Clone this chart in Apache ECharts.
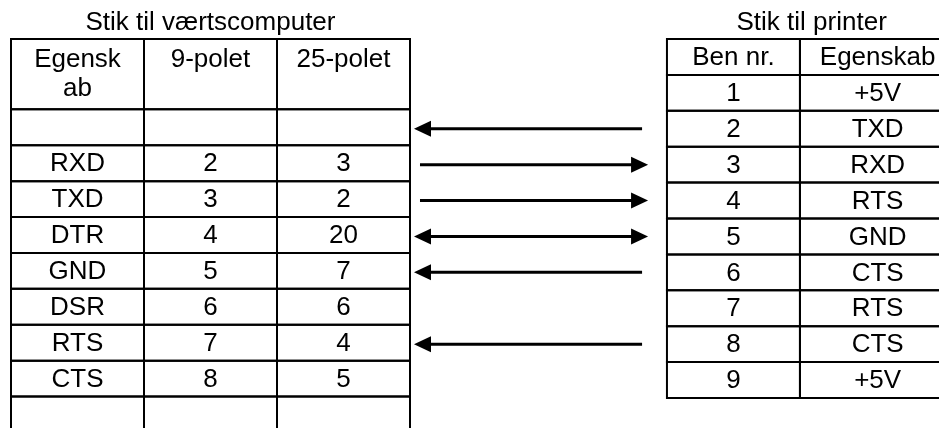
<!DOCTYPE html>
<html>
<head>
<meta charset="utf-8">
<script src="https://cdn.jsdelivr.net/npm/echarts@6/dist/echarts.min.js"></script>
<style>
html,body{margin:0;padding:0;background:#fff;}
#chart{width:939px;height:428px;}
</style>
</head>
<body>
<div id="chart"></div>
<script>
// ---- data ----
const leftTitle = 'Stik til værtscomputer';
const rightTitle = 'Stik til printer';
const leftHeader = ['Egensk\nab', '9-polet', '25-polet'];
const hostProps = ['', 'RXD', 'TXD', 'DTR', 'GND', 'DSR', 'RTS', 'CTS', ''];
const hostPins9 = ['', '2', '3', '4', '5', '6', '7', '8', ''];
const hostPins25 = ['', '3', '2', '20', '7', '6', '4', '5', ''];
const rightHeader = ['Ben nr.', 'Egenskab'];
const printerPins = ['1', '2', '3', '4', '5', '6', '7', '8', '9'];
const printerProps = ['+5V', 'TXD', 'RXD', 'RTS', 'GND', 'CTS', 'RTS', 'CTS', '+5V'];
const arrowPins = [2, 3, 4, 5, 6, 8];
const arrowDirs = ['left', 'right', 'right', 'both', 'left', 'left'];

// ---- layout (axis units: x = one column width, y = one row height) ----
const COL_PX = 133, ROW_PX = 35.9, GRID_LEFT = 11, GRID_TOP = 39;
const X_MAX = (939 - GRID_LEFT) / COL_PX;
const Y_MAX = (428 - GRID_TOP) / ROW_PX;
const LEFT_COLS = [0, 1, 2, 3];
const RIGHT_COLS = [4.932, 5.932, 7.1];
const LEFT_HEADER_ROWS = 2;
const LEFT_SHIFT = -0.04;
const ARROW_L = 3.03, ARROW_R = 4.79;
const FONT = '26px "Liberation Sans", Arial, sans-serif';
const HEAD_LEN = 17, HEAD_HALF = 8, TAIL_INSET = 6;

const cells = [];
leftHeader.forEach((t, c) => cells.push({x0: LEFT_COLS[c], x1: LEFT_COLS[c + 1], y0: 0, y1: LEFT_HEADER_ROWS + LEFT_SHIFT, text: t, header: true}));
hostProps.forEach((p, r) => {
  [p, hostPins9[r], hostPins25[r]].forEach((t, c) => cells.push({
    x0: LEFT_COLS[c], x1: LEFT_COLS[c + 1],
    y0: LEFT_HEADER_ROWS + r + LEFT_SHIFT, y1: LEFT_HEADER_ROWS + r + 1 + LEFT_SHIFT, text: t
  }));
});
rightHeader.forEach((t, c) => cells.push({x0: RIGHT_COLS[c], x1: RIGHT_COLS[c + 1], y0: 0, y1: 1, text: t}));
printerPins.forEach((p, r) => {
  [p, printerProps[r]].forEach((t, c) => cells.push({
    x0: RIGHT_COLS[c], x1: RIGHT_COLS[c + 1], y0: 1 + r, y1: 2 + r, text: t
  }));
});

const captions = [
  {x: (LEFT_COLS[0] + LEFT_COLS[3]) / 2, text: leftTitle},
  {x: 6.02, text: rightTitle}
];

const chart = echarts.init(document.getElementById('chart'), null, {renderer: 'canvas'});
chart.setOption({
  backgroundColor: '#fff',
  animation: false,
  grid: {left: GRID_LEFT, top: GRID_TOP, width: X_MAX * COL_PX, height: Y_MAX * ROW_PX},
  xAxis: {type: 'value', min: 0, max: X_MAX, show: false},
  yAxis: {type: 'value', min: 0, max: Y_MAX, inverse: true, show: false},
  series: [
    {
      type: 'custom',
      coordinateSystem: 'cartesian2d',
      clip: false,
      encode: {x: [0, 1], y: [2, 3]},
      data: cells.map(c => [c.x0, c.x1, c.y0, c.y1]),
      renderItem: function (params, api) {
        const c = cells[params.dataIndex];
        const p0 = api.coord([api.value(0), api.value(2)]);
        const p1 = api.coord([api.value(1), api.value(3)]);
        const children = [{
          type: 'rect',
          shape: {x: p0[0], y: p0[1], width: p1[0] - p0[0], height: p1[1] - p0[1]},
          style: {fill: 'none', stroke: '#000', lineWidth: 2}
        }];
        if (c.text) {
          const cx = (p0[0] + p1[0]) / 2;
          if (c.header) {
            children.push({type: 'text', style: {text: c.text, x: cx, y: p0[1] + 6, align: 'center', verticalAlign: 'top', font: FONT, lineHeight: 29, fill: '#000'}});
          } else {
            children.push({type: 'text', style: {text: c.text, x: cx, y: (p0[1] + p1[1]) / 2 + 1, align: 'center', verticalAlign: 'middle', font: FONT, fill: '#000'}});
          }
        }
        return {type: 'group', children: children};
      }
    },
    {
      type: 'custom',
      coordinateSystem: 'cartesian2d',
      clip: false,
      encode: {x: 0, y: 1},
      data: arrowPins.map(p => [ARROW_L, p + 0.5]),
      renderItem: function (params, api) {
        const dir = arrowDirs[params.dataIndex];
        const y = api.coord([ARROW_L, api.value(1)])[1];
        const xl = api.coord([ARROW_L, 0])[0];
        const xr = api.coord([ARROW_R, 0])[0];
        const hasL = dir === 'left' || dir === 'both';
        const hasR = dir === 'right' || dir === 'both';
        const lx1 = hasL ? xl + HEAD_LEN - 2 : xl + TAIL_INSET;
        const lx2 = hasR ? xr - HEAD_LEN + 2 : xr - TAIL_INSET;
        const ch = [{type: 'line', shape: {x1: lx1, y1: y, x2: lx2, y2: y}, style: {stroke: '#000', lineWidth: 3}}];
        if (hasL) ch.push({type: 'polygon', shape: {points: [[xl, y], [xl + HEAD_LEN, y - HEAD_HALF], [xl + HEAD_LEN, y + HEAD_HALF]]}, style: {fill: '#000'}});
        if (hasR) ch.push({type: 'polygon', shape: {points: [[xr, y], [xr - HEAD_LEN, y - HEAD_HALF], [xr - HEAD_LEN, y + HEAD_HALF]]}, style: {fill: '#000'}});
        return {type: 'group', children: ch};
      }
    },
    {
      type: 'custom',
      coordinateSystem: 'cartesian2d',
      clip: false,
      encode: {x: 0, y: 1},
      data: captions.map(c => [c.x, -0.45]),
      renderItem: function (params, api) {
        const p = api.coord([api.value(0), api.value(1)]);
        return {type: 'text', style: {text: captions[params.dataIndex].text, x: p[0], y: p[1], align: 'center', verticalAlign: 'middle', font: FONT, fill: '#000'}};
      }
    }
  ]
});
</script>
</body>
</html>
